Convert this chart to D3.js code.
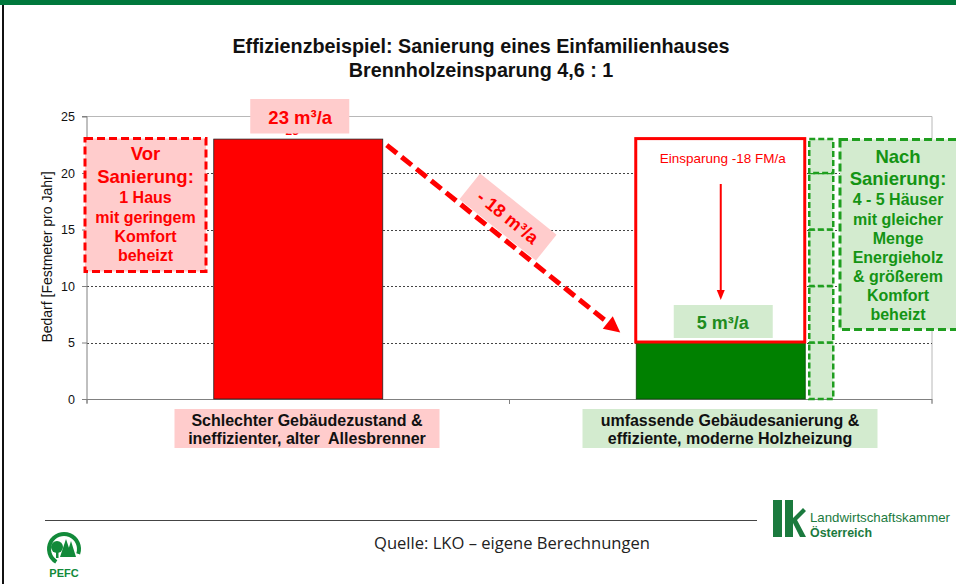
<!DOCTYPE html>
<html><head><meta charset="utf-8">
<script src="https://cdn.jsdelivr.net/npm/d3@7"></script>
<style>
html,body{margin:0;padding:0;background:#fff;}
svg{display:block;font-family:"Liberation Sans",Arial,sans-serif;}
text{white-space:pre;}
</style></head>
<body>
<script>
// ---- data ----
const categories = ["Schlechter Gebäudezustand & ineffizienter, alter  Allesbrenner",
                    "umfassende Gebäudesanierung & effiziente, moderne Holzheizung"];
const categoryLines = [["Schlechter Gebäudezustand &", "ineffizienter, alter  Allesbrenner"],
                       ["umfassende Gebäudesanierung &", "effiziente, moderne Holzheizung"]];
const values = [23, 5];
const valueLabels = ["23 m³/a", "5 m³/a"];
const yTicks = [0, 5, 10, 15, 20, 25];
const gridValues = [5, 10, 15, 20];
const savingLabel = "- 18 m³/a";
const savingNote = "Einsparung -18 FM/a";
const houseSegments = [0, 5, 10, 15, 20, 23];
const vorLines = ["Vor", "Sanierung:", "1 Haus", "mit geringem", "Komfort", "beheizt"];
const nachLines = ["Nach", "Sanierung:", "4 - 5 Häuser", "mit gleicher", "Menge", "Energieholz", "& größerem", "Komfort", "beheizt"];
const titleLines = ["Effizienzbeispiel: Sanierung eines Einfamilienhauses", "Brennholzeinsparung 4,6 : 1"];
const yLabel = "Bedarf [Festmeter pro Jahr]";
const source = "Quelle: LKO – eigene Berechnungen";

// ---- colours ----
const RED = "#ff0000", PINK = "#ffcccc", LGREEN = "#d3ebcf", DGREEN = "#008000", DASHGREEN = "#1f9e1f", TGREEN = "#149414";

const W = 956, H = 584;
const svg = d3.select("body").append("svg").attr("width", W).attr("height", H);

// frame decorations
svg.append("rect").attr("x", 0).attr("y", 0).attr("width", W).attr("height", 5).attr("fill", "#00783c");
svg.append("rect").attr("x", 2).attr("y", 5).attr("width", 2).attr("height", H - 5).attr("fill", "#111");

// title
svg.append("g").selectAll("text").data(titleLines).join("text")
  .attr("x", 481).attr("y", (d, i) => 53 + i * 24)
  .attr("text-anchor", "middle").attr("font-weight", "bold").attr("font-size", 19.75)
  .attr("fill", "#111").text(d => d);

// scales
const plot = {left: 87, right: 932, top: 116.5, bottom: 399};
const x = d3.scaleBand().domain(categories).range([plot.left, plot.right]).paddingInner(0.6).paddingOuter(0.3);
const y = d3.scaleLinear().domain([0, 25]).range([plot.bottom, plot.top]);
const step = x.step();

// plot frame (top & right)
svg.append("path").attr("d", `M${plot.left},${plot.top}H${plot.right}V${plot.bottom + 4}`)
  .attr("fill", "none").attr("stroke", "#b8b8b8").attr("stroke-width", 1);

// gridlines
svg.append("g").selectAll("line").data(gridValues).join("line")
  .attr("x1", plot.left).attr("x2", plot.right)
  .attr("y1", d => Math.round(y(d)) + 0.5).attr("y2", d => Math.round(y(d)) + 0.5)
  .attr("stroke", "#444").attr("stroke-width", 1).attr("stroke-dasharray", "2,2");

// y axis
const yAxis = svg.append("g").attr("transform", `translate(${plot.left},0)`)
  .call(d3.axisLeft(y).tickValues(yTicks).tickSize(5).tickPadding(7).tickFormat(d3.format("d")));
yAxis.select(".domain").attr("stroke", "#808080").attr("d", `M-5,${plot.top}H0V${plot.bottom + 4}`);
yAxis.selectAll(".tick line").attr("stroke", "#808080");
yAxis.selectAll("text").attr("font-size", 12.5).attr("fill", "#111").attr("font-family", "Liberation Sans, Arial, sans-serif");

// y label
svg.append("text").attr("transform", `translate(52,257) rotate(-90)`)
  .attr("text-anchor", "middle").attr("font-size", 14).attr("fill", "#111").text(yLabel);

// x axis line with ticks at band boundaries
const boundaries = [plot.left, ...categories.slice(1).map(c => x(c) - step * x.paddingInner() / 2), plot.right];
svg.append("line").attr("x1", plot.left).attr("x2", plot.right).attr("y1", plot.bottom + 0.5).attr("y2", plot.bottom + 0.5)
  .attr("stroke", "#808080").attr("stroke-width", 1.2);
svg.append("g").selectAll("line").data(boundaries).join("line")
  .attr("x1", d => d).attr("x2", d => d).attr("y1", plot.bottom).attr("y2", plot.bottom + 5)
  .attr("stroke", "#808080");

// narrow green "houses" column (stacked dashed boxes)
const segs = d3.pairs(houseSegments);
const colX = x(categories[1]) + x.bandwidth() + 4;
svg.append("g").selectAll("rect").data(segs).join("rect")
  .attr("x", colX).attr("width", 24)
  .attr("y", d => y(d[1])).attr("height", d => y(d[0]) - y(d[1]))
  .attr("fill", LGREEN).attr("stroke", DASHGREEN).attr("stroke-width", 2.5).attr("stroke-dasharray", "6,3");

// bars
const barColors = [RED, DGREEN];
svg.append("g").selectAll("rect").data(values).join("rect")
  .attr("x", (d, i) => x(categories[i])).attr("width", x.bandwidth())
  .attr("y", d => y(d)).attr("height", d => y(0) - y(d))
  .attr("fill", (d, i) => barColors[i]).attr("stroke", (d, i) => i === 0 ? "#222" : "#0a4a0a").attr("stroke-width", 0.8);

// data label, mostly hidden behind the label box
svg.append("text").attr("x", x(categories[0]) + x.bandwidth() / 2 - 6).attr("y", y(values[0]) - 4)
  .attr("text-anchor", "middle").attr("font-size", 12).attr("font-weight", "bold").attr("fill", RED).text(values[0]);

// savings box
const sx = x(categories[1]);
svg.append("rect").attr("x", sx - 0.5).attr("y", y(values[0]) - 0.5)
  .attr("width", x.bandwidth()).attr("height", y(values[1]) - y(values[0]))
  .attr("fill", "#fff").attr("stroke", RED).attr("stroke-width", 3);
svg.append("text").attr("x", sx + x.bandwidth() / 2 + 2).attr("y", 163)
  .attr("text-anchor", "middle").attr("font-size", 13.5).attr("fill", RED).text(savingNote);
// vertical arrow
const ax = sx + x.bandwidth() / 2;
svg.append("line").attr("x1", ax).attr("x2", ax).attr("y1", 184).attr("y2", 292)
  .attr("stroke", RED).attr("stroke-width", 2);
svg.append("path").attr("d", `M${ax - 4},${290}L${ax + 4},${290}L${ax},${300}Z`).attr("fill", RED);

// value label boxes
const lab0x = x(categories[0]) + x.bandwidth() / 2;
svg.append("rect").attr("x", lab0x - 48).attr("y", 99).attr("width", 99).attr("height", 34.5).attr("fill", PINK);
svg.append("text").attr("x", lab0x + 2).attr("y", 124).attr("text-anchor", "middle")
  .attr("font-size", 18.5).attr("font-weight", "bold").attr("fill", RED).text(valueLabels[0]);
const lab1x = x(categories[1]) + x.bandwidth() / 2;
svg.append("rect").attr("x", lab1x - 47).attr("y", 305).attr("width", 99).attr("height", 33).attr("fill", LGREEN);
svg.append("text").attr("x", lab1x + 2).attr("y", 329).attr("text-anchor", "middle")
  .attr("font-size", 18).attr("font-weight", "bold").attr("fill", "#1e8c1e").text(valueLabels[1]);

// diagonal dashed arrow
const p0 = [x(categories[0]) + x.bandwidth() + 4, y(values[0]) + 6];
const p1 = [x(categories[1]) - 16, y(values[1]) - 10];
const ang = Math.atan2(p1[1] - p0[1], p1[0] - p0[0]);
const headLen = 16, headW = 8;
const base = [p1[0] - headLen * Math.cos(ang), p1[1] - headLen * Math.sin(ang)];
svg.append("line").attr("x1", p0[0]).attr("y1", p0[1]).attr("x2", base[0] + 3 * Math.cos(ang)).attr("y2", base[1] + 3 * Math.sin(ang))
  .attr("stroke", RED).attr("stroke-width", 5).attr("stroke-dasharray", "13,6");
svg.append("path").attr("d",
  `M${p1[0]},${p1[1]}L${base[0] + headW * Math.sin(ang)},${base[1] - headW * Math.cos(ang)}L${base[0] - headW * Math.sin(ang)},${base[1] + headW * Math.cos(ang)}Z`)
  .attr("fill", RED);

// rotated saving label
const deg = ang * 180 / Math.PI;
const lg = svg.append("g").attr("transform", `translate(508,217) rotate(${deg})`);
lg.append("rect").attr("x", -49).attr("y", -16.5).attr("width", 98).attr("height", 33).attr("fill", PINK);
lg.append("text").attr("x", 0).attr("y", 6.5).attr("text-anchor", "middle")
  .attr("font-size", 18).attr("font-weight", "bold").attr("fill", RED).text(savingLabel);

// Vor Sanierung box
svg.append("rect").attr("x", 85).attr("y", 138.5).attr("width", 121).attr("height", 133)
  .attr("fill", PINK).attr("stroke", RED).attr("stroke-width", 3).attr("stroke-dasharray", "8,4");
const vorY = [160, 183, 203, 223, 242, 261];
svg.append("g").selectAll("text").data(vorLines).join("text")
  .attr("x", 145.5).attr("y", (d, i) => vorY[i]).attr("text-anchor", "middle")
  .attr("font-weight", "bold").attr("font-size", (d, i) => i < 2 ? 18.5 : 16)
  .attr("fill", RED).text(d => d);

// Nach Sanierung box
svg.append("rect").attr("x", 840).attr("y", 139.5).attr("width", 120).attr("height", 190)
  .attr("fill", LGREEN).attr("stroke", DASHGREEN).attr("stroke-width", 3).attr("stroke-dasharray", "8,4");
const nachY = [163, 185, 205, 225, 244, 263, 282, 301, 320];
svg.append("g").selectAll("text").data(nachLines).join("text")
  .attr("x", 898).attr("y", (d, i) => nachY[i]).attr("text-anchor", "middle")
  .attr("font-weight", "bold").attr("font-size", (d, i) => i < 2 ? 18.5 : 16)
  .attr("fill", TGREEN).text(d => d);

// category label boxes
const catBox = [{cx: 307, w: 265, fill: PINK}, {cx: 730, w: 295, fill: LGREEN}];
categories.forEach((c, i) => {
  const b = catBox[i];
  svg.append("rect").attr("x", b.cx - b.w / 2).attr("y", 409).attr("width", b.w).attr("height", 39).attr("fill", b.fill);
  svg.append("g").selectAll("text").data(categoryLines[i]).join("text")
    .attr("x", b.cx).attr("y", (d, j) => 426 + j * 18).attr("text-anchor", "middle")
    .attr("font-weight", "bold").attr("font-size", 16).attr("fill", "#111").text(d => d);
});

// footer
svg.append("line").attr("x1", 45).attr("x2", 757).attr("y1", 520.5).attr("y2", 520.5).attr("stroke", "#444").attr("stroke-width", 1.2);
svg.append("text").attr("x", 512).attr("y", 549).attr("text-anchor", "middle")
  .attr("font-size", 15.5).attr("fill", "#222")
  .attr("font-family", "Open Sans, Liberation Sans, sans-serif")
  .attr("textLength", 276).attr("lengthAdjust", "spacingAndGlyphs").text(source);

// PEFC logo
const pg = svg.append("g").attr("fill", "#128a3a");
pg.append("path").attr("d", d3.arc()({innerRadius: 13, outerRadius: 17, startAngle: -2.6, endAngle: 1.9})).attr("transform", "translate(64,549)");
pg.append("circle").attr("cx", 57).attr("cy", 547).attr("r", 6);
pg.append("rect").attr("x", 56).attr("y", 550).attr("width", 2.5).attr("height", 8);
pg.append("path").attr("d", "M66,539L60,557L72,557Z");
pg.append("path").attr("d", "M71,541L66,557L76,557Z");
pg.append("text").attr("x", 64).attr("y", 577).attr("text-anchor", "middle").attr("font-size", 11).attr("font-weight", "bold").text("PEFC");

// LK logo
const lk = svg.append("g").attr("fill", "#1b7a3e");
lk.append("rect").attr("x", 773).attr("y", 500).attr("width", 9).attr("height", 37);
lk.append("rect").attr("x", 785).attr("y", 500).attr("width", 8).attr("height", 37);
lk.append("path").attr("d", "M793,518L803,508L806,511L797,520L806,537L800,537L793,523Z");
lk.append("text").attr("x", 810).attr("y", 522).attr("font-size", 13.5)
  .attr("textLength", 140).attr("lengthAdjust", "spacingAndGlyphs").text("Landwirtschaftskammer");
lk.append("text").attr("x", 810).attr("y", 537).attr("font-size", 13.5).attr("font-weight", "bold")
  .attr("textLength", 62).attr("lengthAdjust", "spacingAndGlyphs").text("Österreich");
</script>
</body></html>
